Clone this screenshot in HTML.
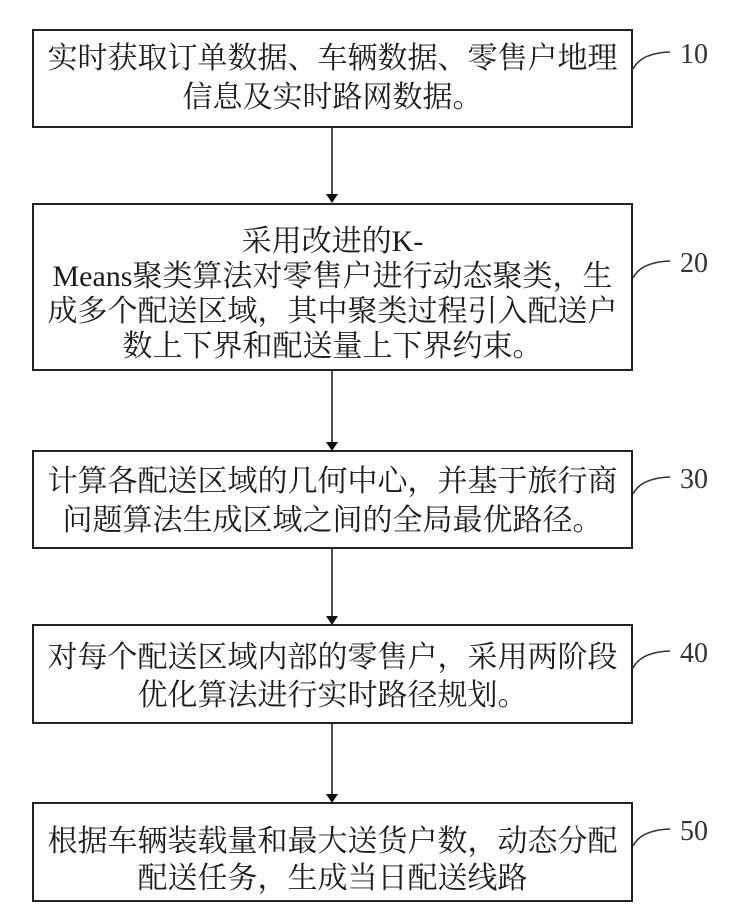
<!DOCTYPE html>
<html>
<head>
<meta charset="utf-8">
<style>
  html, body { margin: 0; padding: 0; background: #ffffff; }
  body { width: 743px; height: 915px; overflow: hidden; }
  svg { display: block; }
  .t { font-family: "Liberation Serif", "Noto Serif CJK SC", "Noto Sans CJK SC", serif; font-size: 30px; fill: #1c1c1c; }
  .lbl { font-family: "Liberation Serif", serif; font-size: 28px; fill: #333; }
</style>
</head>
<body>
<svg width="743" height="915" viewBox="0 0 743 915" xmlns="http://www.w3.org/2000/svg">
  <defs>
    <marker id="ah" markerWidth="12" markerHeight="12" refX="6" refY="10" orient="auto" markerUnits="userSpaceOnUse">
      <path d="M0,2 L12,2 L6,10 Z" fill="#111"/>
    </marker>
  </defs>

  <!-- Boxes -->
  <g fill="none" stroke="#222" stroke-width="2">
    <rect x="33" y="30" width="599" height="97"/>
    <rect x="33" y="204" width="599" height="166"/>
    <rect x="33" y="451" width="599" height="97"/>
    <rect x="33" y="625" width="599" height="98"/>
    <rect x="33" y="803" width="599" height="98"/>
  </g>

  <!-- Connectors -->
  <g stroke="#222" stroke-width="1.6" fill="#111">
    <line x1="332" y1="127" x2="332" y2="196"/>
    <path d="M326,194 L338,194 L332,203 Z" stroke="none"/>
    <line x1="332" y1="370" x2="332" y2="444"/>
    <path d="M326,442 L338,442 L332,451 Z" stroke="none"/>
    <line x1="332" y1="548" x2="332" y2="618"/>
    <path d="M326,616 L338,616 L332,625 Z" stroke="none"/>
    <line x1="332" y1="723" x2="332" y2="796"/>
    <path d="M326,794 L338,794 L332,803 Z" stroke="none"/>
  </g>

  <!-- Leader curves -->
  <g fill="none" stroke="#333" stroke-width="1.6">
    <path d="M633,69 Q641,53 670,52"/>
    <path d="M633,278 Q641,262 670,261"/>
    <path d="M633,494 Q641,478 670,477"/>
    <path d="M633,668 Q641,652 670,651"/>
    <path d="M633,846 Q641,830 670,829"/>
  </g>

  <!-- Labels -->
  <text class="lbl" x="680" y="63">10</text>
  <text class="lbl" x="680" y="272">20</text>
  <text class="lbl" x="680" y="488">30</text>
  <text class="lbl" x="680" y="662">40</text>
  <text class="lbl" x="680" y="840">50</text>

  <!-- Box 1 text -->
  <text class="t" x="332.5" y="68" text-anchor="middle">实时获取订单数据、车辆数据、零售户地理</text>
  <text class="t" x="332.5" y="107" text-anchor="middle">信息及实时路网数据。</text>

  <!-- Box 2 text -->
  <text class="t" x="332.5" y="251" text-anchor="middle">采用改进的K-</text>
  <text class="t" x="332.5" y="286" text-anchor="middle">Means聚类算法对零售户进行动态聚类，生</text>
  <text class="t" x="332.5" y="321" text-anchor="middle">成多个配送区域，其中聚类过程引入配送户</text>
  <text class="t" x="332.5" y="356" text-anchor="middle">数上下界和配送量上下界约束。</text>

  <!-- Box 3 text -->
  <text class="t" x="332.5" y="491" text-anchor="middle">计算各配送区域的几何中心，并基于旅行商</text>
  <text class="t" x="332.5" y="530" text-anchor="middle">问题算法生成区域之间的全局最优路径。</text>

  <!-- Box 4 text -->
  <text class="t" x="332.5" y="667" text-anchor="middle">对每个配送区域内部的零售户，采用两阶段</text>
  <text class="t" x="332.5" y="705" text-anchor="middle">优化算法进行实时路径规划。</text>

  <!-- Box 5 text -->
  <text class="t" x="332.5" y="851" text-anchor="middle">根据车辆装载量和最大送货户数，动态分配</text>
  <text class="t" x="332.5" y="888" text-anchor="middle">配送任务，生成当日配送线路</text>
</svg>
</body>
</html>
